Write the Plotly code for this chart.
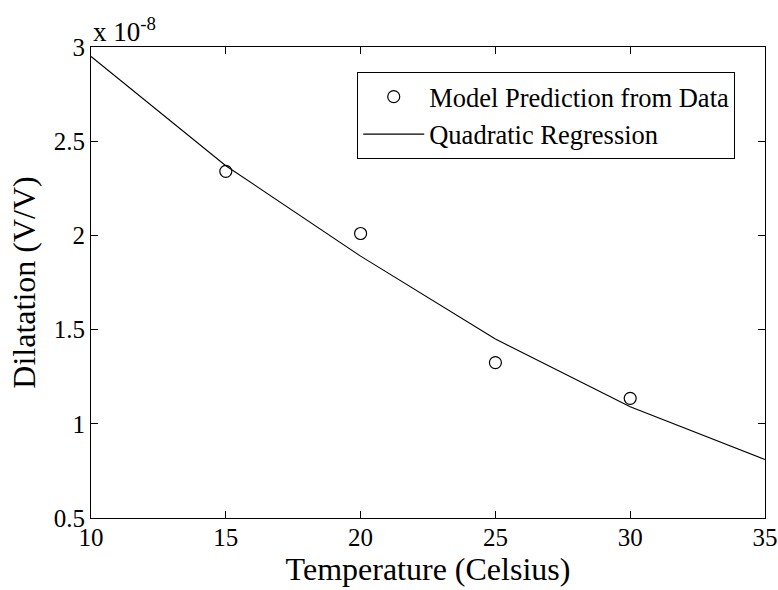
import plotly.graph_objects as go

# Data (values in units of 1e-8 V/V)
temp_points = [15, 20, 25, 30]
dilatation_points = [2.34, 2.01, 1.325, 1.135]

temp_fit = [10, 15, 20, 25, 30, 35]
dilatation_fit = [2.95, 2.37, 1.89, 1.45, 1.09, 0.81]

x_ticks = [10, 15, 20, 25, 30, 35]
y_ticks = [0.5, 1, 1.5, 2, 2.5, 3]
y_tick_labels = ["0.5", "1", "1.5", "2", "2.5", "3"]

FONT = "Liberation Serif, Times New Roman, serif"

fig = go.Figure()
fig.add_trace(go.Scatter(
    x=temp_points, y=dilatation_points, mode="markers",
    name="Model Prediction from Data",
    marker=dict(symbol="circle-open", size=12, color="black", line=dict(width=1.2, color="black")),
))
fig.add_trace(go.Scatter(
    x=temp_fit, y=dilatation_fit, mode="lines",
    name="Quadratic Regression",
    line=dict(color="black", width=1.1),
))

fig.update_layout(
    width=778, height=590,
    margin=dict(l=91, r=13, t=47, b=72, autoexpand=False),
    paper_bgcolor="white", plot_bgcolor="white",
    font=dict(family=FONT, color="black", size=25),
    showlegend=True,
    legend=dict(
        x=0.395, y=0.947, xanchor="left", yanchor="top",
        bgcolor="white", bordercolor="black", borderwidth=1,
        font=dict(family=FONT, size=26.5, color="black"),
        tracegroupgap=0, itemwidth=61,
    ),
    xaxis=dict(
        range=[10, 35], tickvals=x_ticks, ticks="inside", ticklen=7,
        tickcolor="black", showline=True, linecolor="black", linewidth=1,
        mirror="ticks", showgrid=False, zeroline=False, automargin=False,
        ticklabeloverflow="allow",
        tickfont=dict(family=FONT, size=25), ticklabelstandoff=-3,
        title=dict(text="Temperature (Celsius)", font=dict(family=FONT, size=32), standoff=4),
    ),
    yaxis=dict(
        range=[0.5, 3], tickvals=y_ticks, ticktext=y_tick_labels, ticks="inside", ticklen=7,
        tickcolor="black", showline=True, linecolor="black", linewidth=1,
        mirror="ticks", showgrid=False, zeroline=False, automargin=False,
        tickfont=dict(family=FONT, size=25),
        title=dict(text="Dilatation (V/V)", font=dict(family=FONT, size=32), standoff=8),
    ),
    annotations=[dict(
        text="x 10<sup>-8</sup>", xref="paper", yref="paper", x=0, y=1,
        xanchor="left", yanchor="bottom", showarrow=False, yshift=-2,
        font=dict(family=FONT, size=27, color="black"),
    )],
)

fig.write_html("out.html")
